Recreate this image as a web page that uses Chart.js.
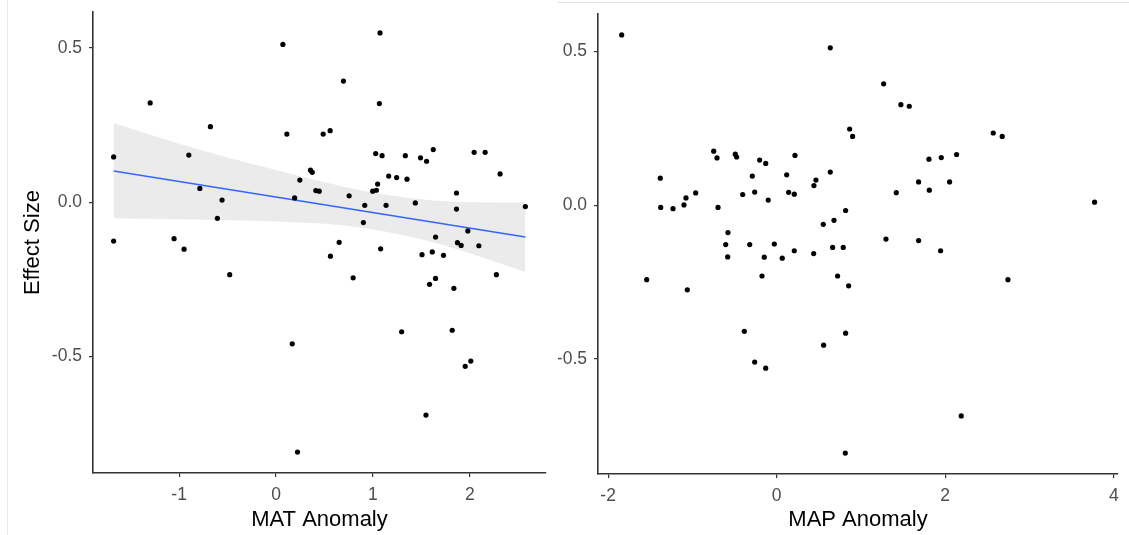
<!DOCTYPE html>
<html>
<head>
<meta charset="utf-8">
<script src="https://cdn.jsdelivr.net/npm/chart.js@4.4.1/dist/chart.umd.min.js"></script>
<style>
  body { margin: 0; background: #fff; }
  #wrap { position: relative; width: 1129px; height: 535px; overflow: hidden; background: #fff; }
  .panel { position: absolute; top: 0; height: 535px; }
  #left { left: 0; width: 560px; }
  #right { left: 558px; width: 571px; }
  .edge-v { position: absolute; left: 7px; top: 0; width: 0; height: 535px; border-left: 1px solid #e8e8e8; }
  .edge-h { position: absolute; left: 558px; top: 2px; width: 571px; height: 0; border-top: 1px solid #e2e2e2; }
</style>
</head>
<body>
<div id="wrap">
  <div class="edge-v"></div>
  <div class="edge-h"></div>
  <div class="panel" id="left"><canvas id="matChart" width="560" height="535"></canvas></div>
  <div class="panel" id="right"><canvas id="mapChart" width="571" height="535"></canvas></div>
</div>
<script>
// MAT anomaly vs effect size
const matX = [0.071, -1.299, -0.677, 0.112, -1.676, -0.900, 0.356, 0.374, 0.246, 0.411,
  0.446, -0.786, 0.192, -0.557, -0.605, -1.676, -1.052, -0.949, -0.478, 0.168,
  0.222, 1.074, 0.696, 1.067, 0.487, 0.559, 1.029, 1.095, 1.335, 1.492,
  1.554, 1.623, 2.045, 2.159, 2.313, 1.163, 1.245, 1.352, 1.049, 0.998,
  1.036, 0.755, 1.863, 0.916, 1.136, 1.438, 1.863, 2.574, 0.902, 1.980,
  1.647, 0.652, 0.562, 1.080, 1.507, 1.613, 1.729, 1.873, 1.911, 2.094,
  0.796, 1.585, 1.647, 1.836, 2.275, 1.297, 1.819, 1.953, 2.011, 1.548];
const matY = [0.512, 0.322, 0.245, 0.221, 0.147, 0.153, 0.104, 0.097, 0.072, 0.038,
  0.036, 0.045, 0.014, 0.007, -0.052, -0.126, -0.118, -0.152, -0.235, -0.459,
  -0.810, 0.549, 0.393, 0.320, 0.221, 0.232, 0.158, 0.151, 0.151, 0.144,
  0.133, 0.171, 0.162, 0.162, 0.092, 0.085, 0.080, 0.075, 0.059, 0.036,
  0.039, 0.021, 0.030, -0.010, -0.010, -0.002, -0.022, -0.014, -0.066, -0.093,
  -0.113, -0.130, -0.175, -0.151, -0.170, -0.161, -0.172, -0.131, -0.140, -0.141,
  -0.245, -0.266, -0.247, -0.279, -0.235, -0.420, -0.415, -0.532, -0.515, -0.690];

// linear fit and its confidence band
const fitX = [-1.676, 2.574];
const fitY = [0.101, -0.113];
const bandX = [-1.676, -1.0, -0.5, 0.0, 0.5, 1.0, 1.5, 2.0, 2.574];
const bandUpper = [0.257, 0.19, 0.145, 0.105, 0.065, 0.032, 0.010, 0.0, -0.001];
const bandLower = [-0.052, -0.055, -0.058, -0.062, -0.070, -0.088, -0.120, -0.165, -0.226];

// MAP anomaly vs effect size
const mapX = [-1.839, 0.636, 0.866, 0.901, -0.747, -0.708, -0.491, -0.475, -0.202, -0.130,
  0.217, -1.381, -0.289, 0.119, 0.636, 0.442, 0.466, -0.961, -1.076, -1.100,
  -0.403, -0.261, 0.142, 0.209, -0.100, -1.376, -1.230, -0.696, 0.818, 0.553,
  0.680, -0.578, 1.269, 1.474, 1.573, 2.570, 2.676, 1.807, 1.953, 2.135,
  1.684, 2.052, 1.419, 1.811, 3.772, -0.605, -0.581, -0.320, -0.028, -0.147,
  0.066, 0.209, 0.439, 0.664, 0.790, -0.174, 0.723, 0.854, -1.542, -1.060,
  -0.384, 0.818, 0.557, -0.261, -0.130, 0.814, 1.297, 1.684, 1.945, 2.744, 2.190];
const mapY = [0.554, 0.512, 0.248, 0.224, 0.176, 0.154, 0.166, 0.157, 0.147, 0.136,
  0.162, 0.088, 0.095, 0.099, 0.108, 0.064, 0.082, 0.040, 0.024, 0.001,
  0.035, 0.043, 0.042, 0.036, 0.017, -0.007, -0.011, -0.007, -0.017, -0.062,
  -0.049, -0.089, 0.395, 0.327, 0.322, 0.235, 0.224, 0.150, 0.155, 0.165,
  0.076, 0.076, 0.041, 0.049, 0.010, -0.128, -0.168, -0.128, -0.126, -0.169,
  -0.172, -0.148, -0.157, -0.137, -0.137, -0.230, -0.230, -0.262, -0.242, -0.275,
  -0.410, -0.416, -0.455, -0.510, -0.530, -0.806, -0.110, -0.115, -0.148, -0.242, -0.685];

const matTicks = [-1, 0, 1, 2];
const mapTicks = [-2, 0, 2, 4];
const effectTicks = [-0.5, 0, 0.5];

const FONT = "'Liberation Sans', Arial, sans-serif";
const tickColor = '#4d4d4d';
const axisColor = '#333333';

function pts(xs, ys) {
  return xs.map((x, i) => ({ x: x, y: ys[i] }));
}

function xScale(min, max, ticks, title, height) {
  return {
    type: 'linear', min: min, max: max,
    afterBuildTicks: s => { s.ticks = ticks.map(v => ({ value: v })); },
    afterFit: s => { s.height = height; s.paddingLeft = 0; s.paddingRight = 0; },
    ticks: { color: tickColor, font: { family: FONT, size: 17.5 }, padding: 8, callback: v => String(v) },
    grid: { drawOnChartArea: false, drawTicks: true, tickLength: 4, color: axisColor, lineWidth: 1.2 },
    border: { display: true, color: axisColor, width: 1.6 },
    title: { display: true, text: title, color: '#000', font: { family: FONT, size: 22 }, padding: { top: 0, bottom: 2 } }
  };
}

function yScale(min, max, ticks, title, width) {
  return {
    type: 'linear', min: min, max: max,
    afterBuildTicks: s => { s.ticks = ticks.map(v => ({ value: v })); },
    // fixed width, and no extra room for half-labels so the plot top sits where the padding says
    afterFit: s => { s.width = width; s.paddingTop = 0; s.paddingBottom = 0; },
    ticks: { color: tickColor, font: { family: FONT, size: 17.5 }, padding: 7, callback: v => v.toFixed(1) },
    grid: { drawOnChartArea: false, drawTicks: true, tickLength: 4, color: axisColor, lineWidth: 1.2 },
    border: { display: true, color: axisColor, width: 1.6 },
    title: { display: !!title, text: title, color: '#000', font: { family: FONT, size: 22 }, padding: { top: 20, bottom: 0 } }
  };
}

const pointStyle = { backgroundColor: '#000', borderColor: '#000', pointRadius: 2.6, pointBorderWidth: 0, showLine: false };

new Chart(document.getElementById('matChart'), {
  type: 'scatter',
  data: {
    datasets: [
      Object.assign({ data: pts(matX, matY) }, pointStyle),
      { data: pts(fitX, fitY), showLine: true, borderColor: '#3366ff', borderWidth: 1.5, pointRadius: 0, fill: false },
      { data: pts(bandX, bandUpper), showLine: true, borderWidth: 0, borderColor: 'rgba(0,0,0,0)', pointRadius: 0,
        backgroundColor: '#ebebeb', fill: '+1', cubicInterpolationMode: 'monotone' },
      { data: pts(bandX, bandLower), showLine: true, borderWidth: 0, borderColor: 'rgba(0,0,0,0)', pointRadius: 0,
        fill: false, cubicInterpolationMode: 'monotone' }
    ]
  },
  options: {
    responsive: false, animation: false, events: [],
    layout: { padding: { left: 0, top: 12, right: 14, bottom: 0 } },
    plugins: { legend: { display: false }, tooltip: { enabled: false } },
    scales: {
      x: xScale(-1.889, 2.787, matTicks, 'MAT Anomaly', 62),
      y: yScale(-0.878, 0.617, effectTicks, 'Effect Size', 93)
    }
  }
});

new Chart(document.getElementById('mapChart'), {
  type: 'scatter',
  data: { datasets: [Object.assign({ data: pts(mapX, mapY) }, pointStyle)] },
  options: {
    responsive: false, animation: false, events: [],
    layout: { padding: { left: 0, top: 14, right: 11, bottom: 0 } },
    plugins: { legend: { display: false }, tooltip: { enabled: false } },
    scales: {
      x: xScale(-2.12, 4.05, mapTicks, 'MAP Anomaly', 61),
      y: yScale(-0.874, 0.622, effectTicks, '', 40)
    }
  }
});
</script>
</body>
</html>
